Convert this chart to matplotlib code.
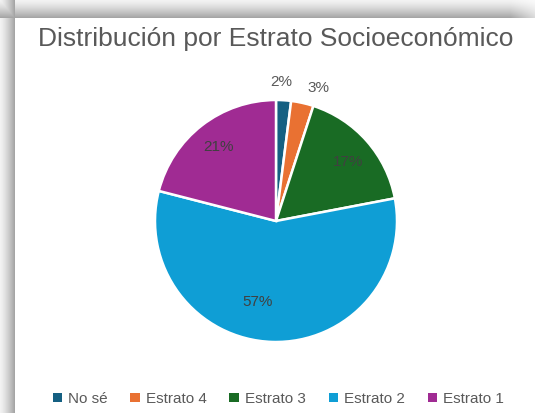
import matplotlib
matplotlib.use("Agg")
import matplotlib.pyplot as plt
import numpy as np
from matplotlib.patches import Rectangle

# Data
categories = ["No sé", "Estrato 4", "Estrato 3", "Estrato 2", "Estrato 1"]
values = [2, 3, 17, 57, 21]
colors = ["#156082", "#E97132", "#196B24", "#0F9ED5", "#A02B93"]

W, H = 535, 413
fig = plt.figure(figsize=(W / 100, H / 100), dpi=100)
fig.patch.set_facecolor("white")

# shadow frame behind the card (top and left bands)
top_band, left_band = 18, 15
bg = np.ones((H, W))
rows = np.arange(top_band)
bg[:top_band, :] = (0.95 - 0.30 * (rows / (top_band - 1)) ** 1.3)[:, None]
cols = np.arange(left_band)
left = 0.95 - 0.30 * (cols / (left_band - 1)) ** 1.3
bg[:, :left_band] = np.minimum(bg[:, :left_band], left[None, :])
# fade at the right end of the top band
fade = np.clip((W - np.arange(W)) / 25, 0, 1)
bg[:top_band, :] = 1 - (1 - bg[:top_band, :]) * (0.4 + 0.6 * fade[None, :])
fig.figimage(np.dstack([bg, bg, bg]), 0, 0, origin="upper", zorder=0)

# pie axes
cx, cy, r = 276, 221, 121
ax = fig.add_axes([(cx - r) / W, (H - cy - r) / H, 2 * r / W, 2 * r / H])
ax.set_zorder(2)
ax.patch.set_visible(False)
wedges, _ = ax.pie(values, colors=colors, startangle=90, counterclock=False, radius=1,
                   wedgeprops=dict(edgecolor="white", linewidth=1.8))
ax.set_xlim(-1, 1)
ax.set_ylim(-1, 1)
ax.set_aspect("equal")
ax.axis("off")

# percentage labels (angle nudges mimic the original label placement)
label_dist = [1.15, 1.15, 0.77, 0.69, 0.77]
angle_nudge = [1.6, -5, -2.5, -11, 0]
cum = np.cumsum([0] + values)
for i, v in enumerate(values):
    mid = 90 - (cum[i] + v / 2) * 3.6 + angle_nudge[i]
    d = label_dist[i]
    x = d * np.cos(np.radians(mid))
    y = d * np.sin(np.radians(mid))
    col = "#595959" if d > 1 else "#404040"
    ax.text(x, y, f"{v}%", ha="center", va="center", fontsize=11, color=col,
            family="Liberation Sans")

fig.text(0.515, 1 - 39 / H, "Distribución por Estrato Socioeconómico", ha="center", va="center",
         fontsize=19, color="#595959", family="Liberation Sans", zorder=3)

handles = [Rectangle((0, 0), 1, 1, facecolor=c, edgecolor="none") for c in colors]
leg = fig.legend(handles, categories, loc="center", bbox_to_anchor=(0.52, 1 - 399 / H), ncol=5,
                 frameon=False, handlelength=0.6, handleheight=0.6, handletextpad=0.4,
                 columnspacing=1.5, prop=dict(family="Liberation Sans", size=11))
leg.set_zorder(3)
for t in leg.get_texts():
    t.set_color("#595959")

fig.savefig("out.png", dpi=100)
